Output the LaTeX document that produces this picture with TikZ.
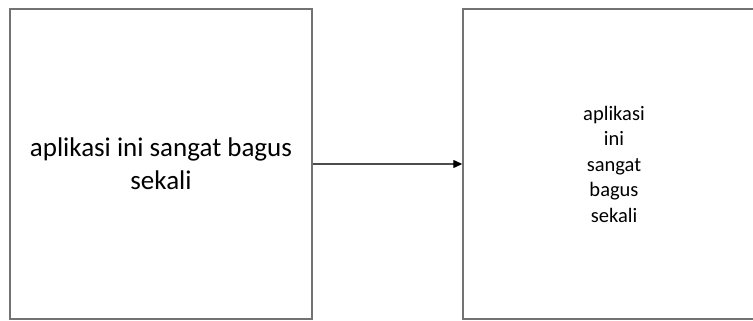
\documentclass[tikz,border=0pt]{standalone}
\usepackage{fontspec}
\setmainfont{Carlito}
\usetikzlibrary{arrows.meta}
\begin{document}
\begin{tikzpicture}[x=1pt,y=-1pt,
  panel/.style={draw=black!55,line width=1.4pt,minimum width=302pt,minimum height=310pt,inner sep=0pt,align=center},
  link/.style={draw=black!70,line width=1.2pt,-{Triangle[length=9pt,width=8pt,color=black]}}]
\clip (0,0) rectangle (753,321);
\fill[white] (0,0) rectangle (753,321);
\node[panel,font=\fontsize{27}{33}\selectfont] (src) at (161,164) {aplikasi ini sangat bagus\\sekali};
\node[panel,font=\fontsize{20.5}{25.5}\selectfont] (dst) at (614,164) {aplikasi\\ini\\sangat\\bagus\\sekali};
\draw[link] (src.east) -- (dst.west);
\end{tikzpicture}
\end{document}
